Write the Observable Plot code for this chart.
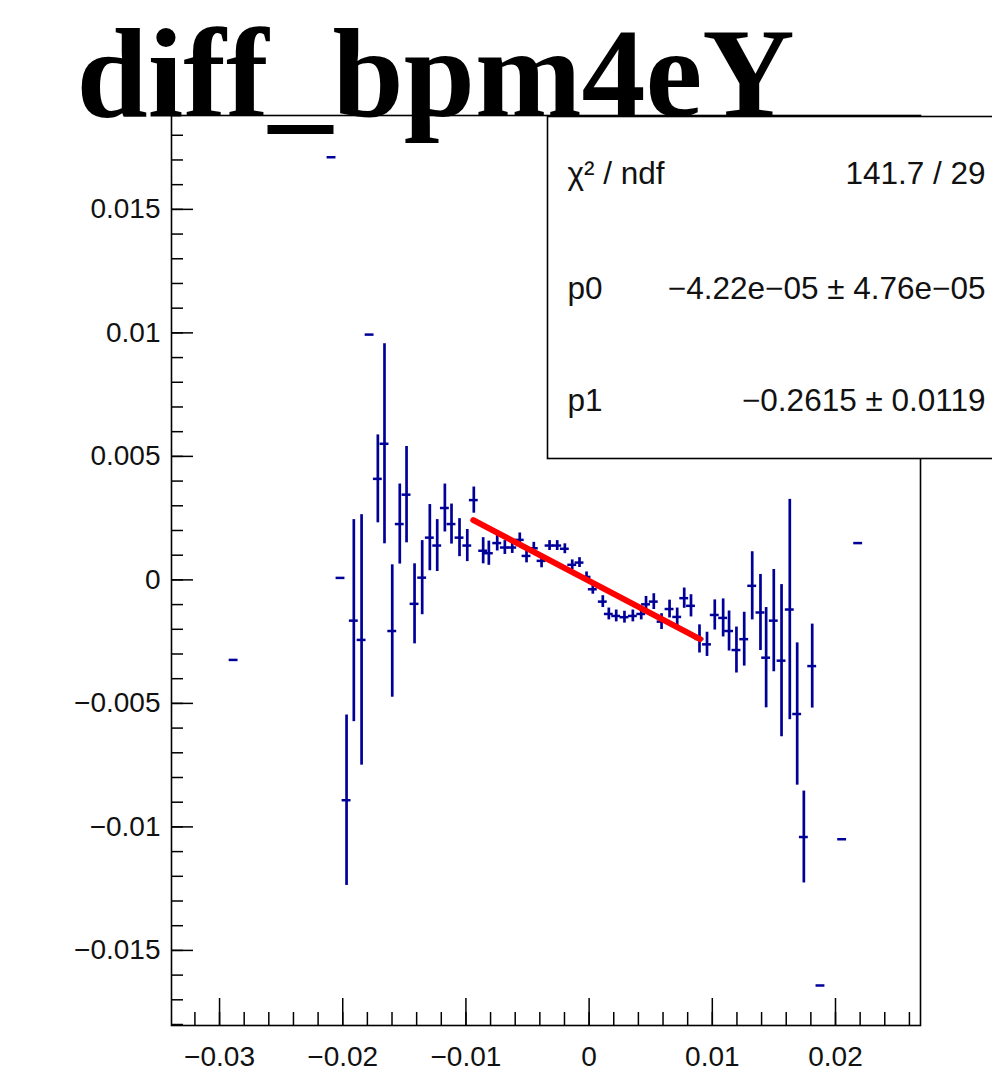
<!DOCTYPE html>
<html><head><meta charset="utf-8">
<script src="https://cdn.jsdelivr.net/npm/d3@7"></script>
<script src="https://cdn.jsdelivr.net/npm/@observablehq/plot@0.6"></script>
<style>body{margin:0;background:#fff}</style>
</head><body><div id="chart"></div>
<script>
const title = "diff_bpm4eY";

const binX = [-0.02886, -0.02091, -0.02018, -0.01969, -0.01910, -0.01847, -0.01782, -0.01715, -0.01661, -0.01598,
  -0.01537, -0.01482, -0.01417, -0.01355, -0.01293, -0.01233, -0.01171, -0.01117, -0.01052, -0.00989,
  -0.00936, -0.00860, -0.00814, -0.00746, -0.00684, -0.00624, -0.00563, -0.00508, -0.00449, -0.00386,
  -0.00321, -0.00259, -0.00197, -0.00137, -0.00078, -0.00021, 0.00030, 0.00111, 0.00160, 0.00220,
  0.00287, 0.00355, 0.00423, 0.00462, 0.00525, 0.00588, 0.00653, 0.00715, 0.00772, 0.00827,
  0.00896, 0.00957, 0.01020, 0.01088, 0.01136, 0.01196, 0.01259, 0.01324, 0.01391, 0.01437,
  0.01499, 0.01562, 0.01629, 0.01689, 0.01743, 0.01811, 0.01878, 0.02054, 0.02184];

const binMean = [-0.00324, 0.01711, 0.00008, -0.00892, -0.00165, -0.00243, 0.00993, 0.00409, 0.00551, -0.00207,
  0.00226, 0.00345, -0.00097, 0.00009, 0.00171, 0.00139, 0.00291, 0.00226, 0.00171, 0.00139,
  0.00323, 0.00118, 0.00108, 0.00149, 0.00131, 0.00131, 0.00162, 0.00097, 0.00128, 0.00077,
  0.00139, 0.00139, 0.00126, 0.00061, 0.00070, 0.00012, -0.00038, -0.00088, -0.00138, -0.00146,
  -0.00151, -0.00146, -0.00138, -0.00099, -0.00088, -0.00169, -0.00118, -0.00150, -0.00074, -0.00105,
  -0.00239, -0.00261, -0.00142, -0.00154, -0.00207, -0.00284, -0.00240, -0.00024, -0.00132, -0.00315,
  -0.00165, -0.00327, -0.00120, -0.00543, -0.01041, -0.00349, -0.01642, -0.01050, 0.00149];

const binErr = [0, 0, 0, 0.00345, 0.00409, 0.00507, 0, 0.00178, 0.00405, 0.00268,
  0.00162, 0.00195, 0.00162, 0.00150, 0.00134, 0.00105, 0.00097, 0.00081, 0.00077, 0.00065,
  0.00053, 0.00053, 0.00049, 0.00032, 0.00028, 0.00024, 0.00028, 0.00028, 0.00024, 0.00028,
  0.00020, 0.00020, 0.00020, 0.00020, 0.00020, 0.00020, 0.00020, 0.00024, 0.00024, 0.00024,
  0.00024, 0.00024, 0.00024, 0.00032, 0.00032, 0.00032, 0.00036, 0.00036, 0.00041, 0.00045,
  0.00057, 0.00049, 0.00061, 0.00077, 0.00081, 0.00093, 0.00109, 0.00138, 0.00154, 0.00203,
  0.00207, 0.00308, 0.00446, 0.00288, 0.00186, 0.00170, 0, 0, 0];

const binHalfWidth = 0.00036;

const xMajorTicks = [-0.03, -0.02, -0.01, 0, 0.01, 0.02];
const yMajorTicks = [-0.015, -0.01, -0.005, 0, 0.005, 0.01, 0.015];
const xMinorTicks = d3.range(-16, 14).map(i => +(i * 0.002).toFixed(4));
const yMinorTicks = d3.range(-18, 19).map(i => +(i * 0.001).toFixed(4));

const statLabels = ["χ² / ndf", "p0", "p1"];
const statValues = ["141.7 / 29", "−4.22e−05 ± 4.76e−05", "−0.2615 ± 0.0119"];
const fitP0 = -4.22e-5, fitP1 = -0.2615;
const fitRange = [-0.0094, 0.0090];

const xDomain = [-0.0339, 0.0269];
const yDomain = [-0.01804, 0.0188];

const W = 992, H = 1090, mL = 171, mR = 72, mT = 115, mB = 65;
const frameW = W - mL - mR, frameH = H - mT - mB;

const points = binX.map((x, i) => ({x, y: binMean[i], err: binErr[i]}));
const fitPts = fitRange.map(x => ({x, y: fitP0 + fitP1 * x}));
const fmt = d => d === 0 ? "0" : String(d).replace("-", "\u2212");
const blue = "#000099";
const sans = "Liberation Sans, Arial, Helvetica, sans-serif";
const statRowDy = [68, 183, 295];

const marks = [
  Plot.ruleX(points.filter(d => d.err > 0), {x: "x", y1: d => d.y - d.err, y2: d => d.y + d.err, stroke: blue, strokeWidth: 2.7}),
  Plot.ruleY(points, {y: "y", x1: d => d.x - binHalfWidth, x2: d => d.x + binHalfWidth, stroke: blue, strokeWidth: 2.5}),
  Plot.line(fitPts, {x: "x", y: "y", stroke: "#ff0000", strokeWidth: 6}),
  Plot.tickX(xMinorTicks, {x: d => d, insetTop: frameH - 13, stroke: "black", strokeWidth: 1.5}),
  Plot.tickX(xMajorTicks, {x: d => d, insetTop: frameH - 27, stroke: "black", strokeWidth: 1.5}),
  Plot.tickY(yMinorTicks, {y: d => d, insetRight: frameW - 12, stroke: "black", strokeWidth: 1.5}),
  Plot.tickY(yMajorTicks, {y: d => d, insetRight: frameW - 22, stroke: "black", strokeWidth: 1.5}),
  Plot.axisX({ticks: xMajorTicks, tickSize: 0, tickPadding: 21, tickFormat: fmt, fontSize: 28, fontFamily: sans, label: null, fill: "#111"}),
  Plot.axisY({ticks: yMajorTicks, tickSize: 0, tickPadding: 11, tickFormat: fmt, fontSize: 28, fontFamily: sans, label: null, fill: "#111"}),
  Plot.frame({stroke: "black", strokeWidth: 1.6}),
  Plot.frame({fill: "white", stroke: "black", strokeWidth: 1.6, insetLeft: 376, insetBottom: 567, insetTop: 1, insetRight: -90}),
];
statLabels.forEach((lab, i) => {
  marks.push(Plot.text([lab], {text: d => d, frameAnchor: "top-left", dx: 396, dy: statRowDy[i], lineAnchor: "bottom", textAnchor: "start", fontSize: 31.5, fontFamily: sans, fill: "#111"}));
  marks.push(Plot.text([statValues[i]], {text: d => d, frameAnchor: "top-right", dx: 65, dy: statRowDy[i], lineAnchor: "bottom", textAnchor: "end", fontSize: 31.5, fontFamily: sans, fill: "#111"}));
});
marks.push(Plot.text([title], {text: d => d, frameAnchor: "top-left", dx: -95, dy: 0, lineAnchor: "bottom", textAnchor: "start", fontSize: 128, fontWeight: "bold", fontFamily: "Liberation Serif, Times New Roman, serif", fill: "black"}));

const plot = Plot.plot({
  width: W, height: H,
  marginLeft: mL, marginRight: mR, marginTop: mT, marginBottom: mB,
  x: {domain: xDomain},
  y: {domain: yDomain},
  style: {fontFamily: sans, background: "white", overflow: "hidden"},
  marks
});
document.getElementById("chart").appendChild(plot);
</script>
</body></html>
